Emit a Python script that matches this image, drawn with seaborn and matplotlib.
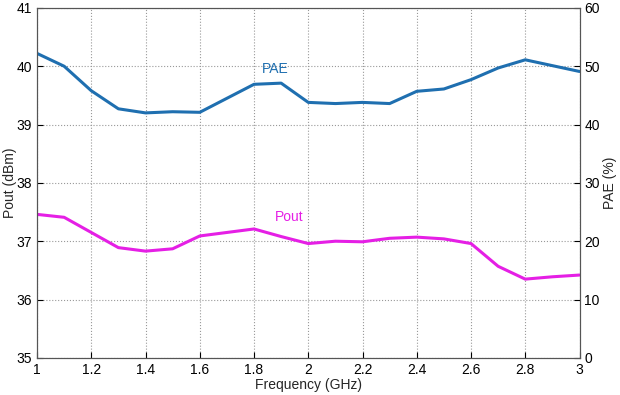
import numpy as np
import pandas as pd
import matplotlib
matplotlib.use("Agg")
import matplotlib.pyplot as plt
import seaborn as sns

# data
freq = [1.0, 1.1, 1.2, 1.3, 1.4, 1.5, 1.6, 1.7, 1.8, 1.9, 2.0,
        2.1, 2.2, 2.3, 2.4, 2.5, 2.6, 2.7, 2.8, 2.9, 3.0]
pout = [37.46, 37.41, 37.15, 36.89, 36.83, 36.87, 37.09, 37.15, 37.21, 37.08, 36.96,
        37.00, 36.99, 37.05, 37.07, 37.04, 36.96, 36.57, 36.35, 36.39, 36.42]
pae = [52.2, 50.0, 45.8, 42.7, 42.0, 42.2, 42.1, 44.5, 46.9, 47.1, 43.8,
       43.6, 43.8, 43.6, 45.7, 46.1, 47.7, 49.7, 51.1, 50.1, 49.1]

df = pd.DataFrame({"freq": freq, "pout": pout, "pae": pae})

sns.set_style("ticks")
plt.rcParams['font.family'] = ['Liberation Sans', 'DejaVu Sans']

blue = "#1f6fb0"
magenta = "#e51fe5"

fig = plt.figure(figsize=(6.2, 3.95), dpi=100)
ax = fig.add_axes([0.0597, 0.094, 0.875, 0.886])
ax2 = ax.twinx()

sns.lineplot(data=df, x="freq", y="pout", color=magenta, linewidth=2.2, ax=ax)
sns.lineplot(data=df, x="freq", y="pae", color=blue, linewidth=2.2, ax=ax2)

ax.set_xlim(1, 3)
ax.set_ylim(35, 41)
ax2.set_ylim(0, 60)
ax.set_xticks(np.arange(1, 3.01, 0.2))
ax.set_xticklabels(["1", "1.2", "1.4", "1.6", "1.8", "2", "2.2", "2.4", "2.6", "2.8", "3"])
ax.set_yticks(range(35, 42))
ax2.set_yticks(range(0, 61, 10))

ax.grid(True, linestyle=":", color="#999999", linewidth=0.8)
for a in (ax, ax2):
    a.tick_params(direction="in", labelsize=10, length=4, colors="black")
    for s in a.spines.values():
        s.set_color("#555555")
        s.set_linewidth(0.8)
        s.set_visible(True)

ax.set_xlabel("Frequency (GHz)", fontsize=10, labelpad=1)
ax.set_ylabel("Pout (dBm)", fontsize=10, labelpad=0)
ax2.set_ylabel("PAE (%)", fontsize=10, labelpad=2)

ax.text(1.877, 39.96, "PAE", color=blue, fontsize=10, ha="center", va="center")
ax.text(1.93, 37.41, "Pout", color=magenta, fontsize=10, ha="center", va="center")

fig.savefig("out.png", dpi=100)
